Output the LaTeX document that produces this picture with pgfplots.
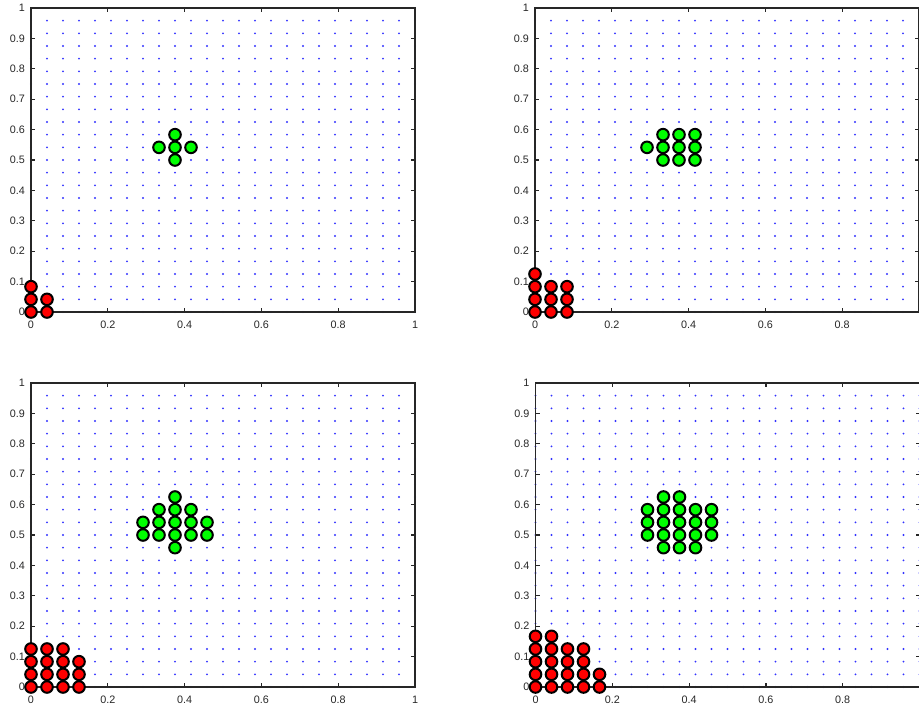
\documentclass[border=0pt]{standalone}
\usepackage{fontspec}
\setmainfont{Liberation Sans}
\usepackage{pgfplots}
\pgfplotsset{compat=1.18}
\definecolor{mgreen}{RGB}{0,255,0}
\definecolor{mred}{RGB}{255,0,0}
\definecolor{mdot}{RGB}{50,50,255}
\pgfplotsset{
  panel/.style={
    scale only axis, width=192pt, height=152pt,
    anchor=south west,
    xmin=0, xmax=1, ymin=0, ymax=1,
    clip=false,
    axis line style={black!85, line width=0.8pt},
    tick align=inside, tick pos=both,
    xticklabel pos=bottom, yticklabel pos=left,
    major tick length=2pt, minor tick length=0pt,
    tick style={black!85, line width=0.6pt},
    xtick={0,0.2,0.4,0.6,0.8,1},
    ytick={0,0.1,0.2,0.3,0.4,0.5,0.6,0.7,0.8,0.9,1},
    minor xtick={0,0.041667,0.083333,0.125,0.166667,0.208333,0.25,0.291667,0.333333,0.375,0.416667,0.458333,0.5,0.541667,0.583333,0.625,0.666667,0.708333,0.75,0.791667,0.833333,0.875,0.916667,0.958333,1},
    xminorgrids=true,
    minor grid style={mdot, line width=1.05pt, line cap=round, dash pattern=on 0pt off 6.33333pt},
    /pgf/number format/.cd, fixed, precision=1, assume math mode=true,
    /pgfplots/.cd,
    tick label style={font=\fontsize{5.4}{6}\selectfont, text=black!85},
    xticklabel style={yshift=-1pt},
    yticklabel style={xshift=0.5pt},
  },
  rightpanel/.style={xticklabels={0,0.2,0.4,0.6,0.8,{}}},
  gpts/.style={only marks, mark=*, mark size=2.9pt, mark options={fill=mgreen, draw=black, line width=1pt}},
  rpts/.style={only marks, mark=*, mark size=2.9pt, mark options={fill=mred, draw=black, line width=1pt}},
}
\begin{document}
\begin{tikzpicture}
\useasboundingbox (0,0) rectangle (459.5pt,354pt);
\clip (0,0) rectangle (459.5pt,354pt);
% Panel 1
\begin{axis}[panel, at={(15.5pt,198pt)}]
\addplot[rpts] coordinates {(0,0) (0,0.041667) (0,0.083333) (0.041667,0) (0.041667,0.041667)};
\addplot[gpts] coordinates {(0.333333,0.541667) (0.375,0.5) (0.375,0.541667) (0.375,0.583333) (0.416667,0.541667)};
\end{axis}
% Panel 2
\begin{axis}[panel, rightpanel, at={(267.5pt,198pt)}]
\addplot[rpts] coordinates {(0,0) (0,0.041667) (0,0.083333) (0,0.125)
 (0.041667,0) (0.041667,0.041667) (0.041667,0.083333)
 (0.083333,0) (0.083333,0.041667) (0.083333,0.083333)};
\addplot[gpts] coordinates {(0.291667,0.541667)
 (0.333333,0.5) (0.333333,0.541667) (0.333333,0.583333)
 (0.375,0.5) (0.375,0.541667) (0.375,0.583333)
 (0.416667,0.5) (0.416667,0.541667) (0.416667,0.583333)};
\end{axis}
% Panel 3
\begin{axis}[panel, at={(15.5pt,10.5pt)}]
\addplot[rpts] coordinates {(0,0) (0,0.041667) (0,0.083333) (0,0.125)
 (0.041667,0) (0.041667,0.041667) (0.041667,0.083333) (0.041667,0.125)
 (0.083333,0) (0.083333,0.041667) (0.083333,0.083333) (0.083333,0.125)
 (0.125,0) (0.125,0.041667) (0.125,0.083333)};
\addplot[gpts] coordinates {(0.291667,0.5) (0.291667,0.541667)
 (0.333333,0.5) (0.333333,0.541667) (0.333333,0.583333)
 (0.375,0.458333) (0.375,0.5) (0.375,0.541667) (0.375,0.583333) (0.375,0.625)
 (0.416667,0.5) (0.416667,0.541667) (0.416667,0.583333)
 (0.458333,0.5) (0.458333,0.541667)};
\end{axis}
% Panel 4
\begin{axis}[panel, rightpanel, at={(267.75pt,10.5pt)}]
\addplot[rpts] coordinates {(0,0) (0,0.041667) (0,0.083333) (0,0.125) (0,0.166667)
 (0.041667,0) (0.041667,0.041667) (0.041667,0.083333) (0.041667,0.125) (0.041667,0.166667)
 (0.083333,0) (0.083333,0.041667) (0.083333,0.083333) (0.083333,0.125)
 (0.125,0) (0.125,0.041667) (0.125,0.083333) (0.125,0.125)
 (0.166667,0) (0.166667,0.041667)};
\addplot[gpts] coordinates {(0.291667,0.5) (0.291667,0.541667) (0.291667,0.583333)
 (0.333333,0.458333) (0.333333,0.5) (0.333333,0.541667) (0.333333,0.583333) (0.333333,0.625)
 (0.375,0.458333) (0.375,0.5) (0.375,0.541667) (0.375,0.583333) (0.375,0.625)
 (0.416667,0.458333) (0.416667,0.5) (0.416667,0.541667) (0.416667,0.583333)
 (0.458333,0.5) (0.458333,0.541667) (0.458333,0.583333)};
\end{axis}
\end{tikzpicture}
\end{document}
